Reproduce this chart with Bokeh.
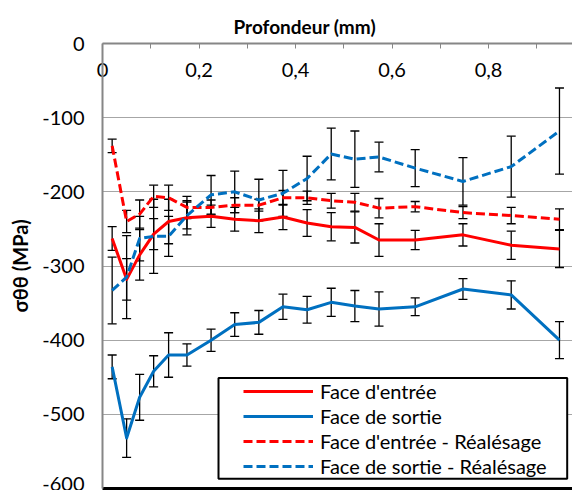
from bokeh.plotting import figure
from bokeh.models import (ColumnDataSource, Whisker, TeeHead, FixedTicker, LinearAxis,
                          Legend, LegendItem, Title, BoxAnnotation, Range1d)
from bokeh.embed import file_html
from bokeh.resources import INLINE

# ---------------- data ----------------
depth = [0.02, 0.05, 0.077, 0.106, 0.137, 0.175, 0.225, 0.274, 0.324, 0.374,
         0.424, 0.474, 0.523, 0.573, 0.648, 0.747, 0.847, 0.947]

entree = [-263, -318, -285, -257, -240, -235, -233, -237, -239, -234,
          -242, -247, -248, -265, -265, -258, -272, -277]
entree_err = [16, 28, 34, 21, 30, 23, 15, 16, 16, 17, 18, 19, 21, 22, 13, 15, 19, 25]

sortie = [-436, -532, -477, -442, -420, -420, -400, -379, -376, -355,
          -359, -349, -354, -358, -355, -331, -339, -400]
sortie_err = [16, 26, 31, 21, 30, 15, 15, 16, 16, 17, 18, 19, 21, 23, 12, 14, 19, 25]

entree_real = [-138, -240, -230, -206, -208, -221, -221, -218, -218, -208,
               -208, -212, -214, -222, -220, -228, -232, -237]
entree_real_err = [9, 15, 19, 15, 17, 15, 10, 10, 8, 10, 9, 10, 12, 13, 7, 8, 11, 14]

sortie_real = [-333, -315, -263, -260, -260, -232, -204, -200, -211, -202,
               -182, -149, -156, -153, -168, -186, -166, -118]
sortie_real_err = [45, 56, 30, 50, 27, 18, 26, 28, 28, 31, 30, 35, 38, 20, 25, 32, 41, 58]

series_names = ["Face d'entrée", "Face de sortie",
                "Face d'entrée - Réalésage", "Face de sortie - Réalésage"]

x_ticks = [0, 0.2, 0.4, 0.6, 0.8]
x_tick_labels = ["0", "0,2", "0,4", "0,6", "0,8"]
x_minor_ticks = [0.1, 0.3, 0.5, 0.7, 0.9]
y_ticks = [0, -100, -200, -300, -400, -500, -600]
y_tick_labels = ["0", "-100", "-200", "-300", "-400", "-500", "-600"]

x_title = "Profondeur (mm)"
y_title = "σθθ (MPa)"

# ---------------- styling ----------------
FONT = "Lato"
RED = "#FF0000"
BLUE = "#0070C0"
AXIS_GRAY = "#868686"
GRID_GRAY = "#A6A6A6"

p = figure(width=572, height=490, output_backend="svg", toolbar_location=None,
           x_range=Range1d(0, 0.974), y_range=Range1d(-600, 0),
           x_axis_location="above", y_axis_location="left",
           min_border_left=102, min_border_top=43, min_border_right=0, min_border_bottom=2)
p.outline_line_color = None
p.background_fill_color = "white"

p.title = Title(text=x_title, align="left", offset=131, vertical_align="middle",
                text_font=FONT, text_font_style="bold", text_font_size="19px",
                text_color="black")

# x axis (top)
xa = p.xaxis[0]
xa.ticker = FixedTicker(ticks=x_ticks, minor_ticks=x_minor_ticks)
xa.major_label_overrides = {t: l for t, l in zip(x_ticks, x_tick_labels)}
xa.axis_line_color = AXIS_GRAY
xa.axis_line_width = 2
xa.major_tick_in = 5
xa.major_tick_out = 0
xa.minor_tick_in = 5
xa.minor_tick_out = 0
xa.major_tick_line_color = AXIS_GRAY
xa.minor_tick_line_color = AXIS_GRAY
xa.major_label_standoff = -33
xa.major_label_text_font = FONT
xa.major_label_text_font_size = "20px"
xa.major_label_text_color = "black"

# y axis (left)
ya = p.yaxis[0]
ya.ticker = FixedTicker(ticks=y_ticks)
ya.major_label_overrides = {t: l for t, l in zip(y_ticks, y_tick_labels)}
ya.axis_line_color = AXIS_GRAY
ya.axis_line_width = 2
ya.major_tick_out = 0
ya.major_tick_in = 0
ya.minor_tick_line_color = None
ya.major_label_standoff = 18
ya.major_label_text_font = FONT
ya.major_label_text_font_size = "20px"
ya.major_label_text_color = "black"
ya.axis_label = y_title
ya.axis_label_text_font = FONT
ya.axis_label_text_font_style = "bold"
ya.axis_label_text_font_size = "20px"
ya.axis_label_text_color = "black"
ya.axis_label_standoff = 7

# bottom black border line
bottom_axis = LinearAxis(ticker=FixedTicker(ticks=[]), axis_line_color="black",
                         axis_line_width=3, major_tick_out=0, major_tick_in=0,
                         minor_tick_out=0, minor_tick_in=0, major_label_standoff=0,
                         major_label_text_font_size="0px")
p.add_layout(bottom_axis, "below")

p.xgrid.visible = False
p.ygrid.ticker = FixedTicker(ticks=y_ticks)
p.ygrid.grid_line_color = GRID_GRAY
p.ygrid.grid_line_width = 1

# ---------------- series ----------------
series = [
    (entree, entree_err, RED, "solid"),
    (sortie, sortie_err, BLUE, "solid"),
    (entree_real, entree_real_err, RED, "9 4"),
    (sortie_real, sortie_real_err, BLUE, "9 4"),
]

# error bars first (drawn beneath lines)
for vals, errs, color, dash in series:
    src = ColumnDataSource(dict(x=depth, y=vals,
                                upper=[v + e for v, e in zip(vals, errs)],
                                lower=[v - e for v, e in zip(vals, errs)]))
    w = Whisker(source=src, base="x", upper="upper", lower="lower",
                line_color="black", line_width=1.3,
                upper_head=TeeHead(size=9, line_color="black", line_width=1.3),
                lower_head=TeeHead(size=9, line_color="black", line_width=1.3))
    p.add_layout(w)

renderers = []
for (vals, errs, color, dash) in series:
    src = ColumnDataSource(dict(x=depth, y=vals))
    r = p.line("x", "y", source=src, line_color=color, line_width=3,
               line_dash=dash, line_join="round")
    renderers.append(r)

# legend frame and legend
box = BoxAnnotation(left=0.2404, right=0.963, top=-451, bottom=-587,
                    fill_color="white", fill_alpha=1, line_color="black",
                    line_width=2, line_alpha=1)
p.add_layout(box)

legend = Legend(items=[LegendItem(label=n, renderers=[r]) for n, r in zip(series_names, renderers)],
                location=(141, 10), orientation="vertical", padding=0, spacing=1,
                margin=0, glyph_width=70, glyph_height=20, label_height=20,
                label_standoff=7, label_text_font=FONT, label_text_font_size="20px",
                label_text_color="black", border_line_alpha=0, background_fill_alpha=0)
p.add_layout(legend)

open("out.html", "w").write(file_html(p, INLINE))
